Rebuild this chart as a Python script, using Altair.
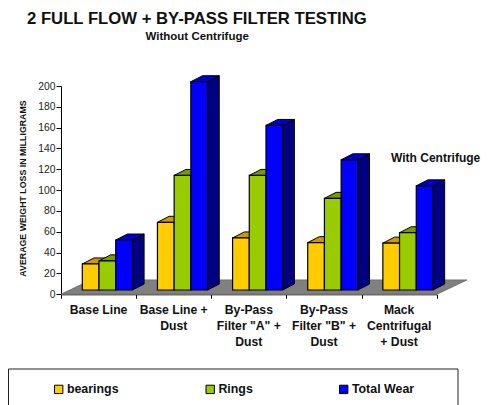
import altair as alt
import pandas as pd

categories = ["Base Line", "Base Line +|Dust", "By-Pass|Filter \"A\" +|Dust", "By-Pass|Filter \"B\" +|Dust", "Mack|Centrifugal|+ Dust"]
series = ["bearings", "Rings", "Total Wear"]
bearings = [25, 65, 50, 45.5, 45]
rings = [28, 110, 110, 88, 55]
total_wear = [48, 200, 158, 125, 100]
front_colors = ["#FFCC00", "#99CC00", "#0000FF"]
top_colors = ["#CC9900", "#7A9900", "#0000CC"]
side_colors = ["#997300", "#669900", "#000080"]

FONT = "Liberation Sans"
values = [bearings, rings, total_wear]
W, H = 375.7, 208.3
PX = 5 / W        # one pixel in x units
PY = 200 / H      # one pixel in y units
START = 21.3 * PX
BAR = 16.7 * PX
DX = 11.7 * PX
DY = 6 * PY
BASE = 4.3 * PY
FLOOR_DX = 30 * PX
FLOOR_DY = 14.3 * PY

xs = alt.Scale(domain=[0, 5], nice=False)
ys = alt.Scale(domain=[0, 200], nice=False)
ax_x = alt.Axis(values=[0, 1, 2, 3, 4, 5], grid=False, title=None, labels=False, domainColor="black",
                tickColor="black", tickSize=4)
ax_y = alt.Axis(values=list(range(0, 201, 20)), grid=False, title=None, domainColor="black", tickColor="black",
                tickSize=5, labelFont=FONT, labelFontSize=10.3, labelColor="#222222", labelPadding=1)
X = lambda f: alt.X(f, type="quantitative", scale=xs, axis=ax_x)
Y = lambda f: alt.Y(f, type="quantitative", scale=ys, axis=ax_y)

floor_df = pd.DataFrame({"y": [0, FLOOR_DY], "xl": [0, FLOOR_DX], "xr": [5, 5 + FLOOR_DX]})
floor = alt.Chart(floor_df).mark_area(orient="horizontal", fill="#808080", stroke="#6e6e6e", strokeWidth=1).encode(
    y=Y("y"), x=X("xl"), x2="xr:Q")

layers = [floor]
for si, s in enumerate(series):
    side_rows, top_rows, front_rows = [], [], []
    for ci, v in enumerate(values[si]):
        x0 = ci + START + si * BAR
        x1 = x0 + BAR
        y0, y1 = BASE, BASE + v
        side_rows += [{"bar": ci, "x": x1, "lo": y0, "hi": y1},
                      {"bar": ci, "x": x1 + DX, "lo": y0 + DY, "hi": y1 + DY}]
        top_rows += [{"bar": ci, "y": y1, "xl": x0, "xr": x1},
                     {"bar": ci, "y": y1 + DY, "xl": x0 + DX, "xr": x1 + DX}]
        front_rows.append({"series": s, "x0": x0, "x1": x1, "y0": y0, "y1": y1})
    side = alt.Chart(pd.DataFrame(side_rows)).mark_area(fill=side_colors[si], stroke="black", strokeWidth=1).encode(
        x=X("x"), y=Y("lo"), y2="hi:Q", detail="bar:N")
    top = alt.Chart(pd.DataFrame(top_rows)).mark_area(orient="horizontal", fill=top_colors[si], stroke="black", strokeWidth=1).encode(
        y=Y("y"), x=X("xl"), x2="xr:Q", detail="bar:N")
    front = alt.Chart(pd.DataFrame(front_rows)).mark_rect(stroke="black", strokeWidth=1.2).encode(
        x=X("x0"), x2="x1:Q", y=Y("y0"), y2="y1:Q",
        color=alt.Color("series:N", scale=alt.Scale(domain=series, range=front_colors), legend=alt.Legend(
            title=None, orient="none", legendX=-8.5, legendY=297, columns=3, columnPadding=84.5,
            symbolType="square", symbolSize=70, symbolStrokeColor="black", symbolStrokeWidth=1,
            labelFont=FONT, labelFontSize=12.4, labelFontWeight="bold", labelColor="#111111", labelOffset=2)))
    layers += [side, top, front]

cat_df = pd.DataFrame({"x": [i + 0.5 for i in range(5)], "label": categories})
cat_text = alt.Chart(cat_df).mark_text(lineBreak="|", lineHeight=16, baseline="top", align="center",
                                       font=FONT, fontSize=12.2, fontWeight="bold", color="#111111").encode(
    x=X("x"), y=alt.value(218), text="label:N")


def note(txt, x, y, size, angle=0, align="left", font=FONT):
    kw = {"angle": angle} if angle else {}
    return alt.Chart(pd.DataFrame({"t": [txt]})).mark_text(
        align=align, baseline="middle", font=font, fontSize=size, fontWeight="bold", color="#111111", **kw
    ).encode(x=alt.value(x), y=alt.value(y), text="t:N")


notes = [
    note("2 FULL FLOW + BY-PASS FILTER TESTING", -34, -67, 16.7),
    note("Without Centrifuge", 84.5, -49, 11.5),
    note("With Centrifuge", 330, 71.5, 12),
    note("AVERAGE WEIGHT LOSS IN MILLIGRAMS", -38, 102.5, 8.8, angle=270, align="center"),
]

box = alt.Chart(pd.DataFrame({"k": [0]})).mark_rect(fill="white", stroke="#222222", strokeWidth=1).encode(
    x=alt.value(-52.5), x2=alt.value(397), y=alt.value(283), y2=alt.value(340))

chart = alt.layer(*layers, box, cat_text, *notes).properties(
    width=W, height=H, autosize="none",
    padding={"left": 53, "top": 78, "right": 44.3, "bottom": 110.7},
).configure_view(stroke=None)

chart.save("out.html", embed_options={"renderer": "svg", "actions": False})
